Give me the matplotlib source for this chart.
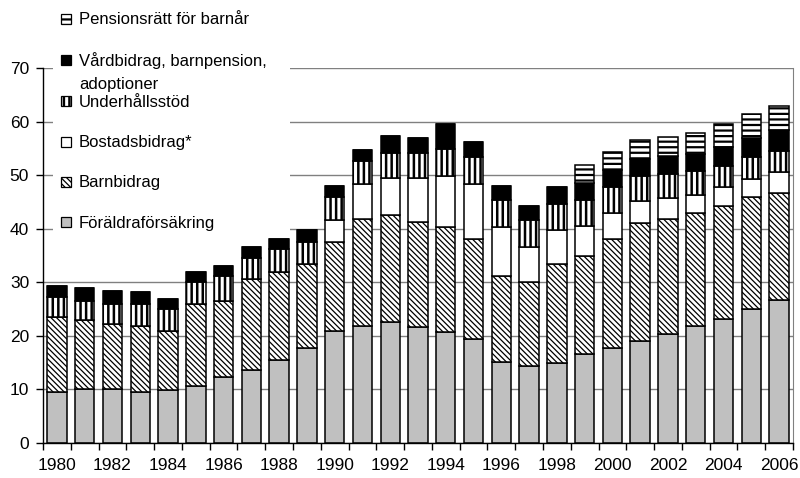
import numpy as np
import matplotlib as mpl
import matplotlib.pyplot as plt
from matplotlib.patches import Rectangle

plt.rcParams['font.family'] = ['Liberation Sans', 'DejaVu Sans']

years = list(range(1980, 2007))

# billions SEK (stack order bottom -> top)
foraldraforsakring = [9.6, 10.1, 10.1, 9.5, 9.9, 10.7, 12.3, 13.6, 15.5, 17.8,
                      21.0, 21.9, 22.5, 21.7, 20.7, 19.5, 15.2, 14.4, 14.9, 16.6,
                      17.8, 19.0, 20.3, 21.8, 23.1, 25.1, 26.7]
barnbidrag = [14.0, 12.8, 12.1, 12.3, 11.1, 15.3, 14.3, 17.0, 16.5, 15.6,
              16.5, 20.0, 20.1, 19.6, 19.6, 18.6, 16.0, 15.6, 18.6, 18.4,
              20.3, 22.0, 21.6, 21.1, 21.2, 20.8, 20.0]
bostadsbidrag = [0, 0, 0, 0, 0, 0, 0, 0, 0, 0,
                 4.1, 6.4, 6.9, 8.2, 9.5, 10.2, 9.2, 6.6, 6.3, 5.5,
                 4.8, 4.2, 3.9, 3.4, 3.4, 3.3, 3.8]
underhallsstod = [3.6, 3.7, 3.7, 4.1, 4.0, 4.1, 4.5, 3.9, 4.2, 4.2,
                  4.4, 4.4, 4.7, 4.7, 5.1, 5.0, 5.0, 5.0, 4.9, 4.9,
                  4.8, 4.6, 4.4, 4.5, 4.0, 4.1, 4.0]
vardbidrag = [2.1, 2.4, 2.5, 2.2, 1.8, 1.8, 2.0, 2.1, 1.8, 2.2,
              2.0, 2.0, 3.1, 2.8, 4.7, 2.8, 2.6, 2.6, 3.1, 3.1,
              3.3, 3.3, 3.4, 3.1, 3.5, 3.6, 3.9]
pensionsratt = [0, 0, 0, 0, 0, 0, 0, 0, 0, 0,
                0, 0, 0, 0, 0, 0, 0, 0, 0, 3.4,
                3.4, 3.5, 3.6, 4.0, 4.3, 4.5, 4.5]

labels = ['Föräldraförsäkring', 'Barnbidrag', 'Bostadsbidrag*', 'Underhållsstöd',
          'Vårdbidrag, barnpension,\nadoptioner', 'Pensionsrätt för barnår']
series = [foraldraforsakring, barnbidrag, bostadsbidrag, underhallsstod,
          vardbidrag, pensionsratt]
# (facecolor, hatch, hatch linewidth)
styles = [('#c0c0c0', None, 1.0),
          ('white', '\\' * 6, 0.9),
          ('white', None, 1.0),
          ('white', '|||', 1.8),
          ('black', None, 1.0),
          ('white', '---', 1.6)]

W, H = 800, 478
fig = plt.figure(figsize=(W / 100, H / 100), dpi=100)
ax = fig.add_axes([43 / W, 1 - 443 / H, (793 - 43) / W, (443 - 68) / H])

x = np.arange(len(years))
bottom = np.zeros(len(years))
for vals, (fc, hatch, hlw) in zip(series, styles):
    mpl.rcParams['hatch.linewidth'] = hlw
    bars = ax.bar(x, vals, bottom=bottom, width=0.7, color=fc, edgecolor='black',
                  linewidth=1.1, hatch=hatch, zorder=2)
    for b in bars:
        if hasattr(b, 'set_hatch_linewidth'):
            b.set_hatch_linewidth(hlw)
    bottom += np.array(vals)

ax.set_xlim(-0.5, len(years) - 0.5)
ax.set_ylim(0, 70)
ax.set_yticks(range(0, 71, 10))
ax.set_xticks(x[::2])
ax.set_xticklabels([str(y) for y in years[::2]])
ax.set_xticks(np.arange(-0.5, len(years), 1), minor=True)
ax.tick_params(axis='y', direction='out', length=5, width=1, labelsize=12.5, pad=5)
ax.tick_params(axis='x', which='major', length=0, labelsize=12.5, pad=11)
ax.tick_params(axis='x', which='minor', direction='out', length=5, width=1)
ax.set_axisbelow(True)
ax.grid(axis='y', color='#808080', linewidth=1)
ax.spines['top'].set_visible(False)
ax.spines['right'].set_color('#808080')
ax.spines['left'].set_linewidth(1)
ax.spines['bottom'].set_linewidth(1)

# legend drawn by hand so the two-line entry overlaps like the original
def fx(px):
    return px / W


def fy(py):
    return 1 - py / H


fig.patches.append(Rectangle((fx(53), fy(233)), fx(290) - fx(53), fy(0) - fy(233),
                             transform=fig.transFigure, facecolor='white',
                             edgecolor='none', zorder=3))
centers = [222, 182, 142, 101, 60, 19]
for lab, (fc, hatch, hlw), cy in zip(labels, styles, centers):
    mpl.rcParams['hatch.linewidth'] = hlw
    r = Rectangle((fx(61), fy(cy + 5)), fx(10), 10 / H, transform=fig.transFigure,
                  facecolor=fc, edgecolor='black', linewidth=0.9, hatch=hatch, zorder=4)
    if hasattr(r, 'set_hatch_linewidth'):
        r.set_hatch_linewidth(hlw)
    fig.patches.append(r)
    # matplotlib puts a multi-line text's last baseline at y
    base = cy + 5.5 + 23 * lab.count('\n')
    fig.text(fx(79), fy(base), lab, fontsize=12, va='baseline', ha='left',
             linespacing=1.6, zorder=5)

fig.savefig('out.png', dpi=100)
